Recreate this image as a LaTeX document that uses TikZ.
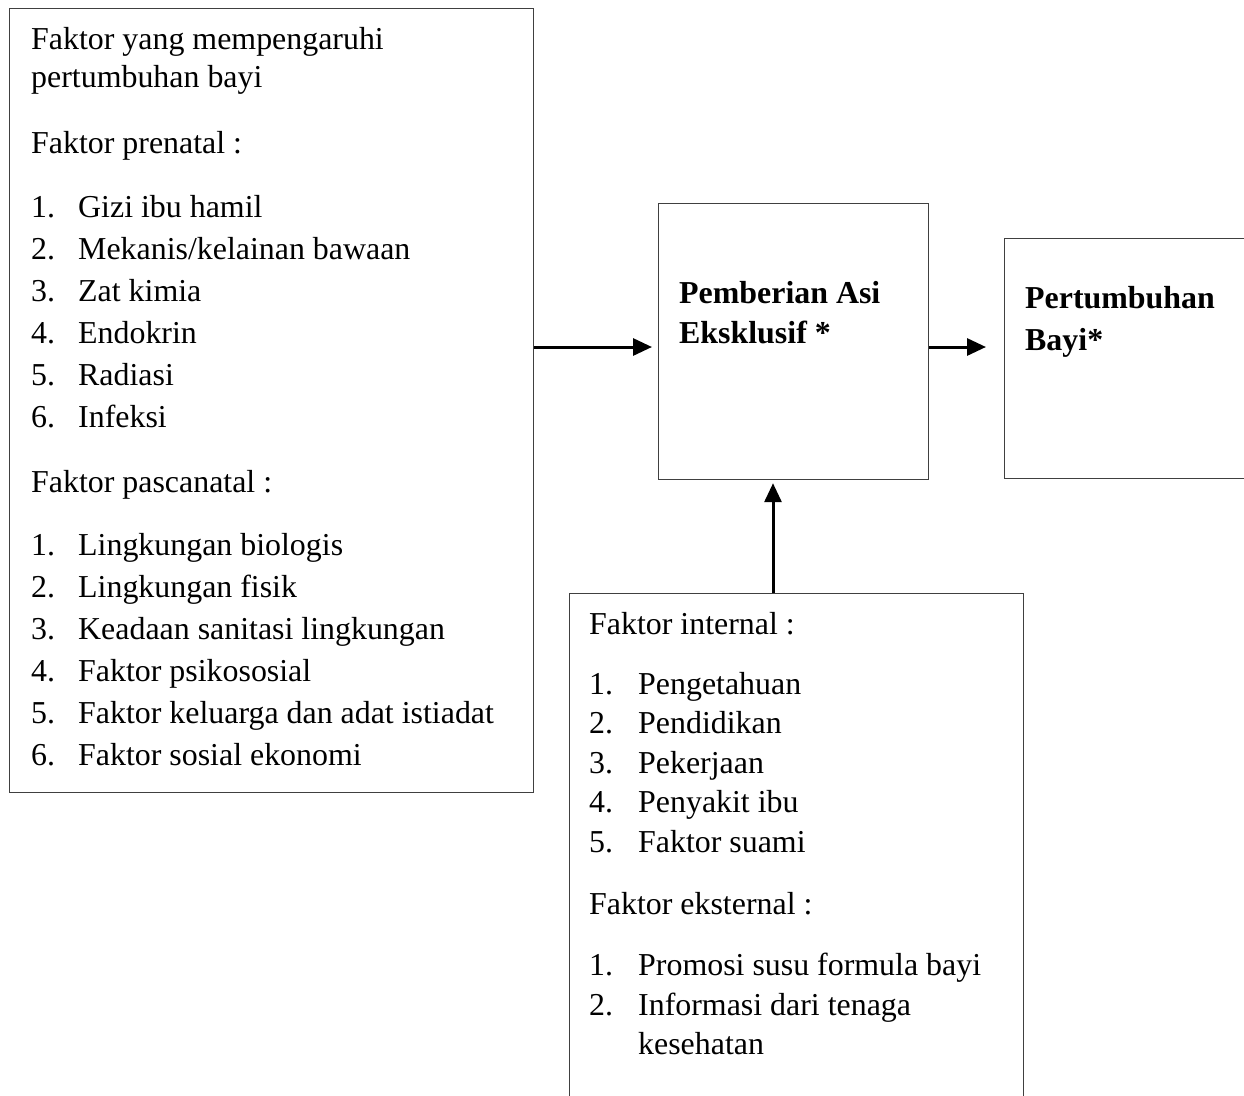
\documentclass[tikz,border=0pt]{standalone}
\usepackage{fontspec}
\setmainfont{Liberation Serif}
\usetikzlibrary{arrows.meta}
\tikzset{
  box/.style={draw=black!75, line width=1.2pt, inner sep=0pt, anchor=north west},
  txt/.style={anchor=base west, inner sep=0pt, font=\fontsize{31.9}{38}\selectfont},
  btxt/.style={anchor=base west, inner sep=0pt, font=\fontsize{31.9}{38}\selectfont\bfseries},
  arr/.style={line width=3pt, -{Triangle[length=19pt,width=17pt]}}
}
\begin{document}
\begin{tikzpicture}[x=1pt,y=-1pt]
\useasboundingbox (0,0) rectangle (1244,1095);
\clip (0,0) rectangle (1244,1095);
% boxes
\node[box, minimum width=524pt, minimum height=784pt] (L) at (9,8) {};
\node[box, minimum width=270pt, minimum height=276pt] (M) at (658,203) {};
\node[box, minimum width=260pt, minimum height=240pt] (R) at (1004,238) {};
\node[box, minimum width=454pt, minimum height=520pt] (B) at (569,593) {};
% left box text
\node[txt] (l1) at (31,49) {Faktor yang mempengaruhi};
\node[txt] (l2) at (31,87) {pertumbuhan bayi};
\node[txt] (l3) at (31,153) {Faktor prenatal :};
\foreach \n/\t [count=\i from 0] in {1/{Gizi ibu hamil},2/{Mekanis/kelainan bawaan},3/{Zat kimia},4/{Endokrin},5/{Radiasi},6/{Infeksi}}{
  \node[txt] (pn\n) at (31,217+42*\i) {\n.};
  \node[txt] (pt\n) at (78,217+42*\i) {\t};
}
\node[txt] (l4) at (31,492) {Faktor pascanatal :};
\foreach \n/\t [count=\i from 0] in {1/{Lingkungan biologis},2/{Lingkungan fisik},3/{Keadaan sanitasi lingkungan},4/{Faktor psikososial},5/{Faktor keluarga dan adat istiadat},6/{Faktor sosial ekonomi}}{
  \node[txt] (qn\n) at (31,555+42*\i) {\n.};
  \node[txt] (qt\n) at (78,555+42*\i) {\t};
}
% middle and right
\node[btxt] (m1) at (679,303) {Pemberian Asi};
\node[btxt] (m2) at (679,343) {Eksklusif *};
\node[btxt] (r1) at (1025,308) {Pertumbuhan};
\node[btxt] (r2) at (1025,350) {Bayi*};
% bottom box text
\node[txt] (b0) at (589,634) {Faktor internal :};
\foreach \n/\t [count=\i from 0] in {1/{Pengetahuan},2/{Pendidikan},3/{Pekerjaan},4/{Penyakit ibu},5/{Faktor suami}}{
  \node[txt] (in\n) at (589,694+39.6*\i) {\n.};
  \node[txt] (it\n) at (638,694+39.6*\i) {\t};
}
\node[txt] (b1) at (589,914) {Faktor eksternal :};
\node[txt] (en1) at (589,975) {1.};
\node[txt] (et1) at (638,975) {Promosi susu formula bayi};
\node[txt] (en2) at (589,1015) {2.};
\node[txt] (et2) at (638,1015) {Informasi dari tenaga};
\node[txt] (et3) at (638,1054) {kesehatan};
% connectors
\coordinate (ay) at (0,347);
\coordinate (ux) at (773,0);
\draw[arr, shorten >=6pt] (L.east |- ay) -- (M.west |- ay);
\draw[arr, shorten >=18pt] (M.east |- ay) -- (R.west |- ay);
\draw[arr, shorten >=3pt] (B.north -| ux) -- (M.south -| ux);
\end{tikzpicture}
\end{document}
